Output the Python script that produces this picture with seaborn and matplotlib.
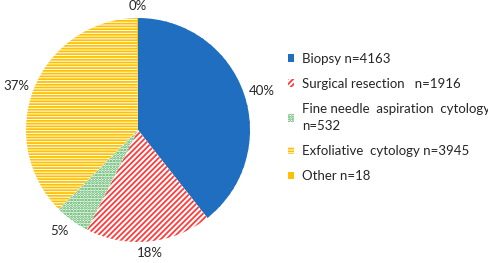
import matplotlib
matplotlib.use("Agg")
import matplotlib.pyplot as plt
import matplotlib.patches as mpatches
import seaborn as sns

categories = ["Biopsy n=4163", "Surgical resection   n=1916",
              "Fine needle  aspiration  cytology\nn=532",
              "Exfoliative  cytology n=3945", "Other n=18"]
counts = [4163, 1916, 532, 3945, 18]
pct_labels = ["40%", "18%", "5%", "37%", "0%"]
colors = ["#1F6EBF", "#FF3B3B", "#3DA84A", "#FFC000", "#FFC000"]
faces = ["#1F6EBF", "white", "white", "white", "#FFC000"]
hatches = ["...", "//////", "......", "------", None]

sns.set_theme(style="white")
plt.rcParams["font.family"] = ["Lato", "DejaVu Sans"]
plt.rcParams["hatch.linewidth"] = 1.3

fig = plt.figure(figsize=(4.89, 2.63), dpi=100)
ax = fig.add_axes([-0.0041, -0.0266, 0.5726, 1.0646])

wedges, texts = ax.pie(counts, labels=pct_labels, startangle=90, counterclock=False,
                       labeldistance=1.05, radius=1,
                       textprops=dict(fontsize=9.5, color="#262626"))
for w, fc, ec, h in zip(wedges, faces, colors, hatches):
    w.set_facecolor(fc)
    w.set_edgecolor(ec if h else fc)
    w.set_linewidth(0)
    if h:
        w.set_hatch(h)
# Excel-like "outside end" anchoring of the labels
for t in texts:
    x, y = t.get_position()
    r = (x * x + y * y) ** 0.5
    cx, sy = x / r, y / r
    if abs(cx) < 0.3:
        t.set_ha("center")
    else:
        t.set_ha("left" if cx > 0 else "right")
    if abs(sy) > 0.5:
        t.set_va("bottom" if sy > 0 else "top")
    else:
        t.set_va("center")
ax.set_xlim(-1.25, 1.25)
ax.set_ylim(-1.25, 1.25)
ax.set_aspect("equal")
ax.axis("off")

handles = []
for fc, ec, h in zip(faces, colors, hatches):
    p = mpatches.Patch(facecolor=fc, edgecolor=ec if h else fc, hatch=h, linewidth=0)
    handles.append(p)
leg = fig.legend(handles, categories, loc="upper left", bbox_to_anchor=(0.588, 0.80),
                 frameon=False, fontsize=9.5, handlelength=0.5, handleheight=0.5,
                 handletextpad=0.6, labelspacing=1.0, labelcolor="#262626",
                 borderpad=0, borderaxespad=0)
for t in leg.get_texts():
    t.set_linespacing(1.5)

fig.savefig("out.png", dpi=100)
